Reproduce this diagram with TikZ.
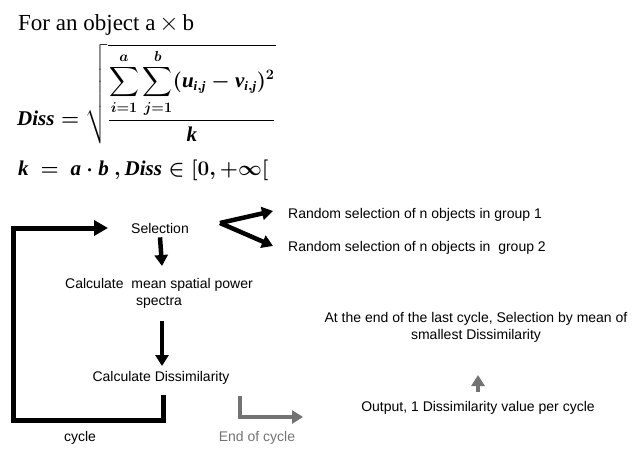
\documentclass[tikz,border=0pt]{standalone}
\usepackage{amsmath}
\usepackage{fontspec}
\setmainfont{Liberation Serif}
\newfontfamily\arialf{Liberation Sans}
\usetikzlibrary{arrows.meta}
\newcommand\bi[1]{\mbox{\bfseries\itshape #1}}
\newcommand\bis[1]{\mbox{\fontsize{13}{15}\selectfont\bfseries\itshape #1}}
\begin{document}
\begin{tikzpicture}[x=1pt,y=-1pt,
  lbl/.style={font=\arialf\fontsize{14}{17}\selectfont, inner sep=0pt, align=center},
  bigarrow/.style={line width=4.5pt, -{Triangle[width=13pt,length=11pt]}},
  looparrow/.style={line width=5pt, -{Triangle[width=15pt,length=14pt]}},
  grayarrow/.style={draw=black!55, line width=4.5pt, -{Triangle[width=13pt,length=11pt]}}]
\useasboundingbox (0,0) rectangle (639,448);

% formula block
\node[anchor=west, inner sep=0pt, font=\fontsize{23}{26}\selectfont] (title) at (18,25) {For an object a\,$\times$\,b};
\node[anchor=west, inner sep=0pt, font=\fontsize{21}{24}\selectfont\boldmath] (diss) at (17,94)
  {$\bi{Diss}=\sqrt{\dfrac{\displaystyle\sum_{i=1}^{a}\sum_{j=1}^{b}(\bi{u}_{\bis{i},\bis{j}}-\bi{v}_{\bis{i},\bis{j}})^2}{\bi{k}}}$};
\node[anchor=west, inner sep=0pt, font=\fontsize{21}{25}\selectfont\boldmath] (kdef) at (18,170)
  {$\bi{k}\ =\ \bi{a}\cdot\bi{b}\ ,\bi{Diss}\in[0,+\infty[$};

% flow
\node[lbl] (sel) at (160,228) {Selection};
\node[lbl] (calc) at (159,293) {Calculate\ \ mean spatial power\\spectra};
\node[lbl] (diss2) at (161,378) {Calculate Dissimilarity};
\node[lbl, anchor=west] (g1) at (288,215) {Random selection of n objects in group 1};
\node[lbl, anchor=west] (g2) at (288,248) {Random selection of n objects in\ \ group 2};
\node[lbl] (end) at (476,327) {At the end of the last cycle, Selection by mean of\\smallest Dissimilarity};
\node[lbl] (out) at (478,408) {Output, 1 Dissimilarity value per cycle};
\node[lbl] (cyc) at (80,438) {cycle};
\node[lbl, text=black!55] (eoc) at (257,438) {End of cycle};

\coordinate (v) at (220,223);
\coordinate (loopstart) at (163,395);
\coordinate (loopend) at (108,228);
\coordinate (gstart) at (240,396);
\coordinate (gend) at (303,417);

\draw[bigarrow] (sel.south) ++(0,4) -- (162,266);
\draw[bigarrow] (162,321) -- (162,366);
\draw[bigarrow] (v) -- (273,211);
\draw[bigarrow, line join=miter] (273,211) ++(-53,12) -- (273,246);
\draw[looparrow, line join=miter] (loopstart) -- (163,420) -- (13,420) -- (13,228) -- (loopend);
\draw[grayarrow, line join=miter] (gstart) -- (240,417) -- (gend);
\draw[grayarrow] (478,392) -- (478,375);
\end{tikzpicture}
\end{document}
